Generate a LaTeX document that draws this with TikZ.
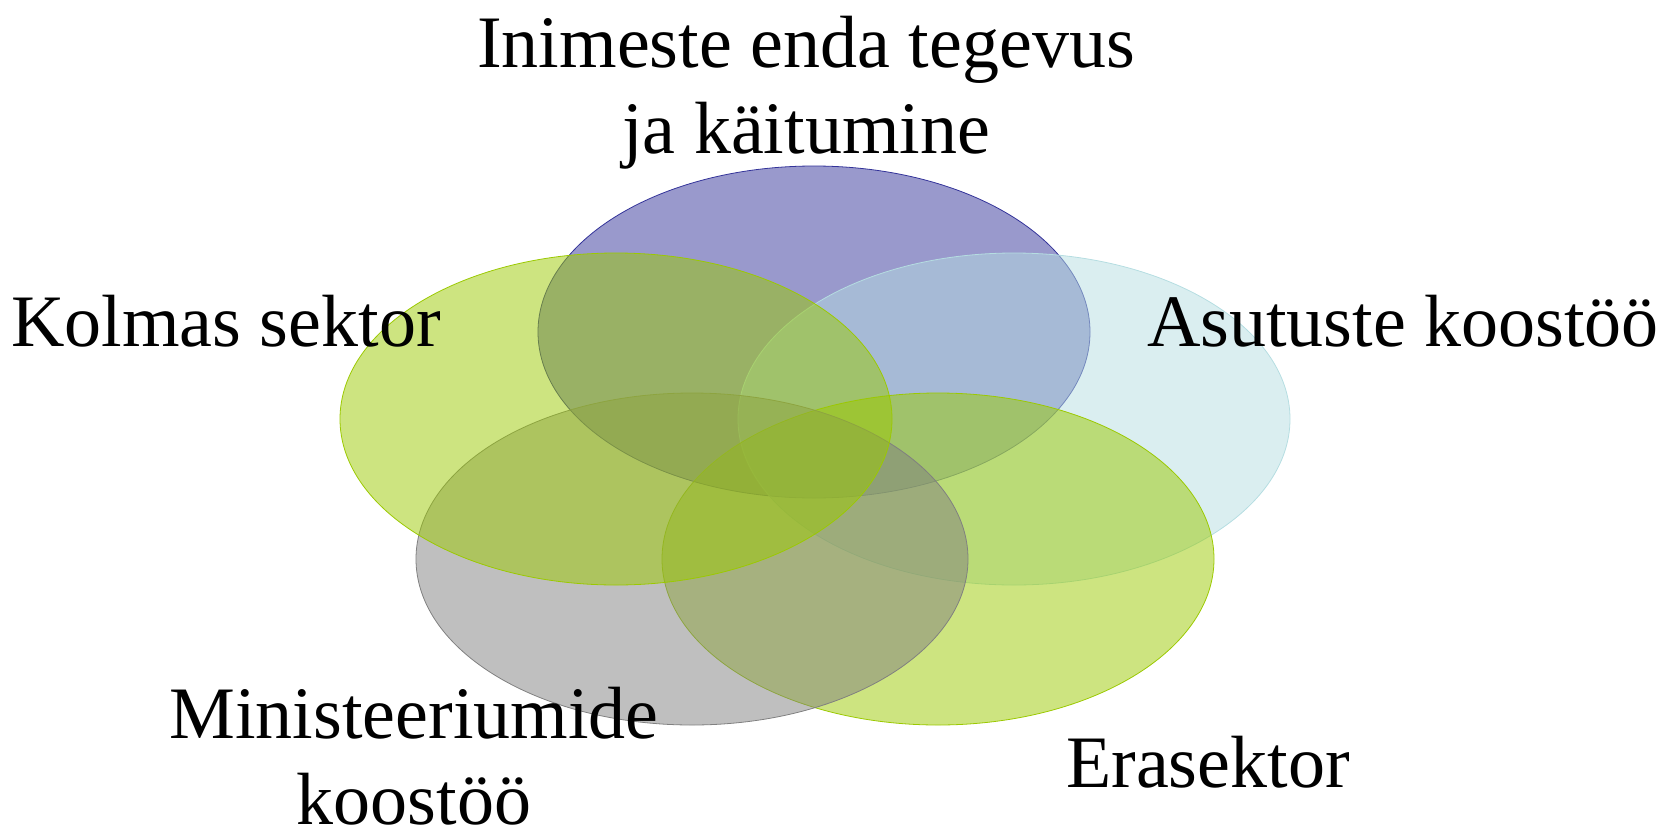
\documentclass[tikz,border=0pt]{standalone}
\usepackage{fontspec}
\setmainfont{Liberation Serif}
\usetikzlibrary{shapes.geometric}
\definecolor{vennpurple}{HTML}{333399}
\definecolor{vennblue}{HTML}{B5DDE1}
\definecolor{venngreen}{HTML}{9BC901}
\definecolor{venngray}{HTML}{808080}
\tikzset{
  venn/.style={ellipse, minimum width=552pt, minimum height=332pt, inner sep=0pt, fill opacity=0.5, line width=0.8pt},
  lbl/.style={font=\fontsize{74}{86}\selectfont, inner sep=0pt, align=center}
}

\begin{document}
\begin{tikzpicture}[x=1pt,y=-1pt]
\useasboundingbox (0,0) rectangle (1679,836);
\node[venn, fill=vennpurple, draw=vennpurple] (inimesed) at (814,332) {};
\node[venn, fill=vennblue, draw=vennblue] (asutused) at (1014,419) {};
\node[venn, fill=venngreen, draw=venngreen] (era) at (938,559) {};
\node[venn, fill=venngray, draw=venngray] (ministeeriumid) at (692,559) {};
\node[venn, fill=venngreen, draw=venngreen] (kolmas) at (616,419) {};
\node[lbl, anchor=base] (inimesedLbl) at (806,153) {Inimeste enda tegevus\\ja käitumine};
\node[lbl, anchor=base] (asutusedLbl) at (1403,346) {Asutuste koostöö};
\node[lbl, anchor=base] (eraLbl) at (1208,787) {Erasektor};
\node[lbl, anchor=base, text depth=0pt] (ministeeriumidLbl) at (414,824) {Ministeeriumide\\koostöö};
\node[lbl, anchor=base] (kolmasLbl) at (226,346) {Kolmas sektor};
\end{tikzpicture}
\end{document}
